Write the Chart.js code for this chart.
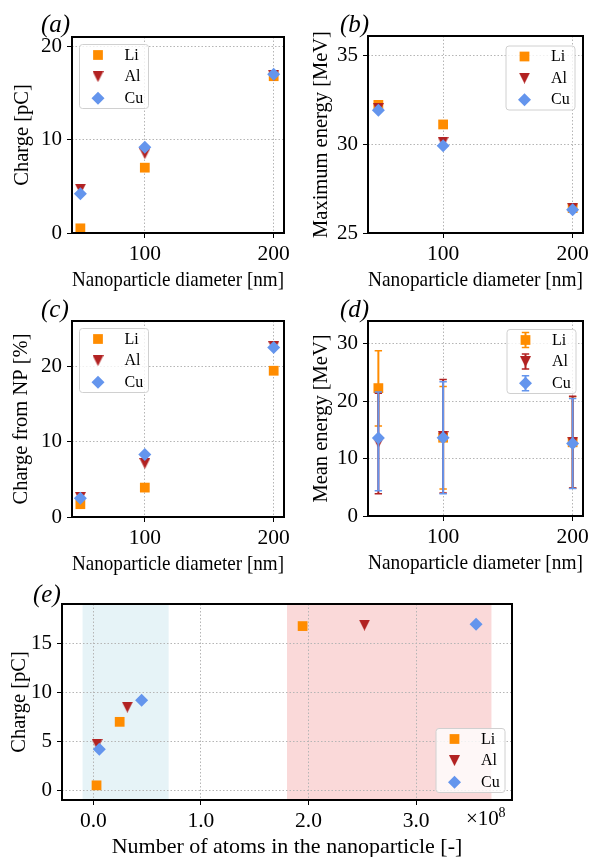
<!DOCTYPE html>
<html>
<head>
<meta charset="utf-8">
<script src="https://cdn.jsdelivr.net/npm/chart.js@4.4.0/dist/chart.umd.min.js"></script>
<style>
  body { margin: 0; background: #fff; width: 595px; height: 857px; position: relative; overflow: hidden; }
  canvas { position: absolute; }
  .tag { position: absolute; font: italic 25px "Liberation Serif", serif; line-height: 25px; color: #000; }
</style>
</head>
<body>
<canvas id="pa"></canvas>
<canvas id="pb"></canvas>
<canvas id="pc"></canvas>
<canvas id="pd"></canvas>
<canvas id="pe"></canvas>
<div class="tag" style="left:41px;top:11px">(a)</div>
<div class="tag" style="left:340px;top:11px">(b)</div>
<div class="tag" style="left:41px;top:296px">(c)</div>
<div class="tag" style="left:340px;top:296px">(d)</div>
<div class="tag" style="left:33px;top:581px">(e)</div>
<script>
// nanoparticle diameters [nm] and materials
const diameters = [50, 100, 200];
const materials = ['Li', 'Al', 'Cu'];

// (a) charge [pC]
const chargeLi = [0.5, 7.0, 16.8];
const chargeAl = [4.7, 8.5, 16.9];
const chargeCu = [4.2, 9.2, 17.0];

// (b) maximum energy [MeV]
const maxEnergyLi = [32.2, 31.1, 26.4];
const maxEnergyAl = [32.0, 30.1, 26.4];
const maxEnergyCu = [31.9, 29.9, 26.3];

// (c) charge from NP [%]
const npShareLi = [1.7, 3.9, 19.4];
const npShareAl = [2.6, 7.1, 22.6];
const npShareCu = [2.5, 8.3, 22.5];

// (d) mean energy [MeV] with spread
const meanEnergyLi = [22.3, 13.65, 12.85];
const meanEnergyAl = [12.8, 13.9, 12.9];
const meanEnergyCu = [13.6, 13.65, 12.65];
const meanLowLi = [15.7, 4.7, 4.9];
const meanHighLi = [28.8, 22.6, 20.8];
const meanLowAl = [3.9, 4.0, 4.9];
const meanHighAl = [21.4, 23.8, 20.9];
const meanLowCu = [4.4, 3.9, 4.8];
const meanHighCu = [21.6, 23.4, 20.5];

// (e) number of atoms in the nanoparticle
const atomsLi = [0.03e8, 0.245e8, 1.945e8];
const atomsAl = [0.035e8, 0.316e8, 2.52e8];
const atomsCu = [0.056e8, 0.449e8, 3.557e8];
const spanSmall = [-0.1e8, 0.7e8];
const spanLarge = [1.8e8, 3.7e8];

// tick values / labels
const diameterTicks = [100, 200];
const chargeTicks = [0, 10, 20];
const maxEnergyTicks = [25, 30, 35];
const npShareTicks = [0, 10, 20];
const meanEnergyTicks = [0, 10, 20, 30];
const atomTicks = [0, 1e8, 2e8, 3e8];
const atomTickLabels = ['0.0', '1.0', '2.0', '3.0'];
const chargeTicksE = [0, 5, 10, 15];

const colors = { Li: '#ff8c00', Al: '#b22222', Cu: '#6495ed' };
const SERIF = '"Liberation Serif", "Times New Roman", serif';

Chart.defaults.font.family = SERIF;
Chart.defaults.color = '#000';

function downTriangle(size, color) {
  const c = document.createElement('canvas');
  c.width = size; c.height = size;
  const g = c.getContext('2d');
  g.fillStyle = color;
  g.beginPath();
  g.moveTo(0, 0); g.lineTo(size, 0); g.lineTo(size / 2, size);
  g.closePath(); g.fill();
  return c;
}
const triAl = downTriangle(11, colors.Al);

const markers = {
  Li: { pointStyle: 'rect', pointRadius: 6.9, order: 3 },
  Al: { pointStyle: triAl, pointRadius: 5.5, order: 2 },
  Cu: { pointStyle: 'rectRot', pointRadius: 6.5, order: 1 }
};

function series(name, xs, ys, extra) {
  return Object.assign({
    label: name,
    data: xs.map((x, i) => ({ x: x, y: ys[i] })),
    backgroundColor: colors[name],
    borderWidth: 0,
    pointBorderWidth: 0,
    pointHoverRadius: markers[name].pointRadius
  }, markers[name], extra || {});
}

// axes frame
const frame = {
  id: 'frame',
  afterDatasetsDraw(chart) {
    const { ctx, chartArea: a } = chart;
    ctx.save();
    ctx.strokeStyle = '#000';
    ctx.lineWidth = 2;
    ctx.strokeRect(a.left, a.top, a.right - a.left, a.bottom - a.top);
    ctx.restore();
  }
};

// vertical error bars, drawn just under each dataset's markers
const errorBars = {
  id: 'errorBars',
  beforeDatasetDraw(chart, args) {
    const ds = chart.data.datasets[args.index];
    if (!ds.errLow) return;
    const ctx = chart.ctx, xs = chart.scales.x, ys = chart.scales.y;
    ctx.save();
    ctx.strokeStyle = ds.backgroundColor;
    ds.data.forEach((p, i) => {
      const px = xs.getPixelForValue(p.x);
      const y0 = ys.getPixelForValue(ds.errLow[i]);
      const y1 = ys.getPixelForValue(ds.errHigh[i]);
      ctx.lineWidth = 2;
      ctx.beginPath(); ctx.moveTo(px, y0); ctx.lineTo(px, y1); ctx.stroke();
      ctx.lineWidth = 1.5;
      ctx.beginPath();
      ctx.moveTo(px - 3.7, y0); ctx.lineTo(px + 3.7, y0);
      ctx.moveTo(px - 3.7, y1); ctx.lineTo(px + 3.7, y1);
      ctx.stroke();
    });
    ctx.restore();
  }
};

// boxed legend inside the axes
const legendBox = {
  id: 'legendBox',
  afterDraw(chart, args, o) {
    if (!o || !o.corner) return;
    const { ctx, chartArea: a } = chart;
    const w = 69, h = 64;
    const x0 = o.corner[1] === 'l' ? a.left + o.dx : a.right - o.dx - w;
    const y0 = o.corner[0] === 'u' ? a.top + o.dy : a.bottom - o.dy - h;
    ctx.save();
    ctx.beginPath();
    ctx.roundRect(x0 + 0.5, y0 + 0.5, w, h, 3);
    ctx.fillStyle = 'rgba(255,255,255,0.8)';
    ctx.fill();
    ctx.strokeStyle = '#d0d0d0';
    ctx.lineWidth = 1;
    ctx.stroke();
    chart.data.datasets.forEach((ds, i) => {
      const cx = x0 + 19, cy = y0 + 11 + i * 21.6;
      ctx.strokeStyle = ds.backgroundColor;
      ctx.fillStyle = ds.backgroundColor;
      if (ds.errLow) {
        ctx.lineWidth = 2;
        ctx.beginPath(); ctx.moveTo(cx, cy - 7.5); ctx.lineTo(cx, cy + 7.5); ctx.stroke();
        ctx.lineWidth = 1.5;
        ctx.beginPath();
        ctx.moveTo(cx - 3.7, cy - 7.5); ctx.lineTo(cx + 3.7, cy - 7.5);
        ctx.moveTo(cx - 3.7, cy + 7.5); ctx.lineTo(cx + 3.7, cy + 7.5);
        ctx.stroke();
      }
      Chart.helpers.drawPoint(ctx, {
        pointStyle: ds.pointStyle, radius: ds.pointRadius, rotation: 0, borderWidth: 0
      }, cx, cy);
      ctx.fillStyle = '#000';
      ctx.font = '16px ' + SERIF;
      ctx.textBaseline = 'middle';
      ctx.textAlign = 'left';
      ctx.fillText(ds.label, x0 + 45.5, cy + 0.5);
    });
    ctx.restore();
  }
};

Chart.register(frame, errorBars, legendBox);

function tickList(list) {
  return s => { s.ticks = list.map(v => ({ value: v })); };
}

function makePanel(p) {
  const cv = document.getElementById(p.id);
  const top = p.T - 20;
  const w = p.R + 20 - p.cl;
  const h = p.B + 62 - top;
  cv.width = w; cv.height = h;
  cv.style.left = p.cl + 'px'; cv.style.top = top + 'px';
  cv.style.width = w + 'px'; cv.style.height = h + 'px';
  const gridBase = {
    color: '#b5b5b5', lineWidth: 1, drawTicks: true,
    tickLength: 5, tickColor: '#000', tickWidth: 1
  };
  return new Chart(cv.getContext('2d'), {
    type: 'scatter',
    data: { datasets: p.datasets },
    options: {
      responsive: false,
      animation: false,
      events: [],
      layout: { padding: { left: 0, top: 20, right: 20, bottom: 0 } },
      plugins: {
        legend: { display: false },
        tooltip: { enabled: false },
        legendBox: p.legend
      },
      scales: {
        x: {
          type: 'linear', position: 'bottom',
          min: p.xmin, max: p.xmax,
          afterBuildTicks: tickList(p.xTicks),
          afterFit: s => { s.height = 62; },
          grid: gridBase,
          border: { display: false, dash: [1.5, 2] },
          ticks: {
            padding: 3, maxRotation: 0, autoSkip: false,
            font: { size: 21.5 },
            callback: p.xLabel || (v => String(v))
          },
          title: {
            display: true, text: p.xTitle,
            font: { size: 22 }, padding: { top: 0, bottom: 1.5 }
          }
        },
        y: {
          type: 'linear', position: 'left',
          min: p.ymin, max: p.ymax,
          afterBuildTicks: tickList(p.yTicks),
          afterFit: s => { s.width = p.L - p.cl; },
          grid: gridBase,
          border: { display: false, dash: [1.5, 2] },
          ticks: { padding: 5, autoSkip: false, font: { size: 21 }, callback: v => String(v) },
          title: {
            display: true, text: p.yTitle,
            font: { size: 20.5 }, padding: { top: p.yTitleX - p.cl - 12.3, bottom: 0 }
          }
        }
      }
    },
    plugins: p.plugins || []
  });
}

const diamTitle = 'Nanoparticle diameter [nm]';

// (a)
makePanel({
  id: 'pa', cl: 0, L: 72, T: 37, R: 284, B: 233,
  xmin: 43.5, xmax: 208, ymin: 0, ymax: 21,
  xTicks: diameterTicks, yTicks: chargeTicks,
  xTitle: diamTitle, yTitle: 'Charge [pC]', yTitleX: 22.5,
  legend: { corner: 'ul', dx: 7, dy: 7 },
  datasets: [
    series('Li', diameters, chargeLi),
    series('Al', diameters, chargeAl),
    series('Cu', diameters, chargeCu)
  ]
});

// (b)
makePanel({
  id: 'pb', cl: 296, L: 368, T: 36, R: 583, B: 233,
  xmin: 42, xmax: 208, ymin: 25, ymax: 36.07,
  xTicks: diameterTicks, yTicks: maxEnergyTicks,
  xTitle: diamTitle, yTitle: 'Maximum energy [MeV]', yTitleX: 321.5,
  legend: { corner: 'ur', dx: 8.5, dy: 9.5 },
  datasets: [
    series('Li', diameters, maxEnergyLi),
    series('Al', diameters, maxEnergyAl),
    series('Cu', diameters, maxEnergyCu)
  ]
});

// (c)
makePanel({
  id: 'pc', cl: 0, L: 72, T: 321, R: 284, B: 517,
  xmin: 43.5, xmax: 208, ymin: 0, ymax: 26,
  xTicks: diameterTicks, yTicks: npShareTicks,
  xTitle: diamTitle, yTitle: 'Charge from NP [%]', yTitleX: 21.7,
  legend: { corner: 'ul', dx: 7, dy: 7 },
  datasets: [
    series('Li', diameters, npShareLi),
    series('Al', diameters, npShareAl),
    series('Cu', diameters, npShareCu)
  ]
});

// (d)
makePanel({
  id: 'pd', cl: 296, L: 368, T: 321, R: 583, B: 516,
  xmin: 42, xmax: 208, ymin: 0, ymax: 34,
  xTicks: diameterTicks, yTicks: meanEnergyTicks,
  xTitle: diamTitle, yTitle: 'Mean energy [MeV]', yTitleX: 321.5,
  legend: { corner: 'ur', dx: 7.5, dy: 8 },
  datasets: [
    series('Li', diameters, meanEnergyLi, { errLow: meanLowLi, errHigh: meanHighLi }),
    series('Al', diameters, meanEnergyAl, { errLow: meanLowAl, errHigh: meanHighAl }),
    series('Cu', diameters, meanEnergyCu, { errLow: meanLowCu, errHigh: meanHighCu })
  ]
});

// shaded atom-count regions and the x-axis multiplier for (e)
const atomSpans = {
  id: 'atomSpans',
  beforeDraw(chart) {
    const { ctx, chartArea: a, scales: { x } } = chart;
    ctx.save();
    ctx.fillStyle = 'rgba(173,216,230,0.3)';
    let x0 = x.getPixelForValue(spanSmall[0]), x1 = x.getPixelForValue(spanSmall[1]);
    ctx.fillRect(x0, a.top, x1 - x0, a.bottom - a.top);
    ctx.fillStyle = 'rgba(240,128,128,0.3)';
    x0 = x.getPixelForValue(spanLarge[0]); x1 = x.getPixelForValue(spanLarge[1]);
    ctx.fillRect(x0, a.top, x1 - x0, a.bottom - a.top);
    ctx.restore();
  },
  afterDraw(chart) {
    const { ctx, chartArea: a } = chart;
    ctx.save();
    ctx.fillStyle = '#000';
    ctx.textBaseline = 'alphabetic';
    ctx.textAlign = 'left';
    ctx.font = '21px ' + SERIF;
    ctx.fillText('\u00d710', a.right - 46, a.bottom + 25);
    ctx.font = '14px ' + SERIF;
    ctx.fillText('8', a.right - 13.5, a.bottom + 17);
    ctx.restore();
  }
};

// (e)
makePanel({
  id: 'pe', cl: 0, L: 62, T: 604, R: 512, B: 800,
  xmin: -0.291e8, xmax: 3.891e8, ymin: -1, ymax: 19.06,
  xTicks: atomTicks, yTicks: chargeTicksE,
  xLabel: (v, i) => atomTickLabels[i],
  xTitle: 'Number of atoms in the nanoparticle [-]', yTitle: 'Charge [pC]', yTitleX: 20,
  legend: { corner: 'lr', dx: 7.5, dy: 8 },
  plugins: [atomSpans],
  datasets: [
    series('Li', atomsLi, chargeLi),
    series('Al', atomsAl, chargeAl),
    series('Cu', atomsCu, chargeCu)
  ]
});
</script>
</body>
</html>
